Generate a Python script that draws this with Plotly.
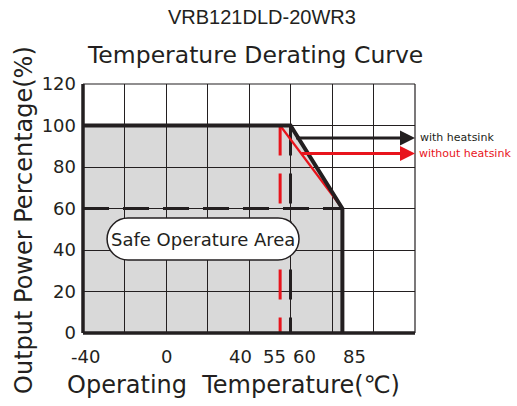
import plotly.graph_objects as go

# ---- data ----
temp_with_heatsink = [-40, 60, 85, 85]
power_with_heatsink = [100, 100, 60, 0]
temp_without_heatsink = [55, 85]
power_without_heatsink = [100, 60]
dash_v_with = ([60, 60], [100, 0])
dash_v_without = ([55, 55], [100, 0])
dash_h_60 = ([-40, 85], [60, 60])
x_tick_labels = ["-40", "0", "40", "55", "60", "85"]
x_tick_values = [-40, 0, 40, 55, 60, 85]
x_tick_shift = [2, 0, -9, -6, 14, 12]  # label offsets in px (style)
y_tick_values = [0, 20, 40, 60, 80, 100, 120]
legend_with = ("with heatsink", 94)
legend_without = ("without heatsink", 86.5)

BLACK = "#231f20"
RED = "#e8141c"
FONT = "DejaVu Sans"

fig = go.Figure()

# gray safe area polygon (below gridlines)
poly_x = temp_with_heatsink + [temp_with_heatsink[0]]
poly_y = power_with_heatsink + [0]
path = "M " + " L ".join(f"{x},{y}" for x, y in zip(poly_x, poly_y)) + " Z"
shapes = [dict(type="path", path=path, xref="x", yref="y", layer="below",
               fillcolor="#d9d9d9", line=dict(width=0))]

# dashed guides
fig.add_trace(go.Scatter(x=dash_h_60[0], y=dash_h_60[1], mode="lines",
                         line=dict(color=BLACK, width=3, dash="26px,14px"), hoverinfo="skip"))
fig.add_trace(go.Scatter(x=dash_v_with[0], y=dash_v_with[1], mode="lines",
                         line=dict(color=BLACK, width=3, dash="30px,18px"), hoverinfo="skip"))
fig.add_trace(go.Scatter(x=dash_v_without[0], y=dash_v_without[1], mode="lines",
                         line=dict(color=RED, width=3, dash="30px,18px"), hoverinfo="skip"))
# without heatsink slope
fig.add_trace(go.Scatter(x=temp_without_heatsink, y=power_without_heatsink, mode="lines",
                         line=dict(color=RED, width=2.2), hoverinfo="skip"))
# with heatsink curve
fig.add_trace(go.Scatter(x=temp_with_heatsink, y=power_with_heatsink, mode="lines",
                         line=dict(color=BLACK, width=4), hoverinfo="skip"))

# borders
shapes += [
    dict(type="line", xref="paper", yref="paper", x0=0, x1=0, y0=0, y1=1,
         line=dict(color=BLACK, width=3.5), layer="above"),
    dict(type="line", xref="paper", yref="paper", x0=0, x1=1, y0=0, y1=0,
         line=dict(color=BLACK, width=3.5), layer="above"),
    dict(type="line", xref="paper", yref="paper", x0=0, x1=1, y0=1, y1=1,
         line=dict(color=BLACK, width=1.2), layer="above"),
    dict(type="line", xref="paper", yref="paper", x0=1, x1=1, y0=0, y1=1,
         line=dict(color=BLACK, width=1.2), layer="above"),
]

# safe operation area box (stadium)
bx0, bx1, by0, by1 = -28.4, 64.1, 35.2, 55.4
r = (by1 - by0) / 2
k = 0.5523 * r
cy = (by0 + by1) / 2
box = (f"M {bx0+r},{by0} L {bx1-r},{by0} "
       f"C {bx1-r+k},{by0} {bx1},{cy-k} {bx1},{cy} "
       f"C {bx1},{cy+k} {bx1-r+k},{by1} {bx1-r},{by1} "
       f"L {bx0+r},{by1} "
       f"C {bx0+r-k},{by1} {bx0},{cy+k} {bx0},{cy} "
       f"C {bx0},{cy-k} {bx0+r-k},{by0} {bx0+r},{by0} Z")
shapes.append(dict(type="path", path=box, xref="x", yref="y", layer="above",
                   fillcolor="white", line=dict(color=BLACK, width=1.5)))

annotations = [
    dict(text="Safe Operature Area", x=(bx0 + bx1) / 2, y=cy, xref="x", yref="y",
         showarrow=False, xanchor="center", yanchor="middle",
         font=dict(family=FONT, size=18, color=BLACK)),
    dict(text="VRB121DLD-20WR3", x=0.539, y=1.269, xref="paper", yref="paper",
         showarrow=False, xanchor="center", yanchor="middle",
         font=dict(family="Liberation Sans", size=20, color=BLACK)),
    dict(text="Temperature Derating Curve", x=0.518, y=1.116, xref="paper", yref="paper",
         showarrow=False, xanchor="center", yanchor="middle",
         font=dict(family=FONT, size=23.5, color=BLACK)),
    dict(text="Operating  Temperature(℃)", x=0.452, y=-0.209, xref="paper", yref="paper",
         showarrow=False, xanchor="center", yanchor="middle",
         font=dict(family=FONT, size=24, color=BLACK)),
    dict(text="Output Power Percentage(%)", x=-0.18, y=0.455, xref="paper", yref="paper",
         showarrow=False, textangle=-90, xanchor="center", yanchor="middle",
         font=dict(family=FONT, size=24, color=BLACK)),
]
for lab, val, sh in zip(x_tick_labels, x_tick_values, x_tick_shift):
    annotations.append(dict(text=lab, x=val, y=0, xref="x", yref="paper", yshift=-23,
                            xshift=sh, showarrow=False, xanchor="center", yanchor="middle",
                            font=dict(family=FONT, size=18, color=BLACK)))

# legend arrows
annotations += [
    dict(x=120, y=legend_with[1], ax=62, ay=legend_with[1], xref="x", yref="y",
         axref="x", ayref="y", showarrow=True, arrowhead=2, arrowsize=1, arrowwidth=3,
         arrowcolor=BLACK, text=""),
    dict(x=120, y=legend_without[1], ax=64.5, ay=legend_without[1], xref="x", yref="y",
         axref="x", ayref="y", showarrow=True, arrowhead=2, arrowsize=1, arrowwidth=3,
         arrowcolor=RED, text=""),
    dict(text=legend_with[0], x=1, y=legend_with[1], xref="paper", yref="y", xanchor="left",
         yanchor="middle", xshift=3, showarrow=False,
         font=dict(family=FONT, size=11, color=BLACK)),
    dict(text=legend_without[0], x=1, y=legend_without[1], xref="paper", yref="y", xanchor="left",
         yanchor="middle", xshift=2, showarrow=False,
         font=dict(family=FONT, size=11, color=RED)),
]

fig.update_layout(
    width=517, height=406,
    margin=dict(l=83, r=102, t=84, b=73),
    plot_bgcolor="white", paper_bgcolor="white",
    showlegend=False,
    shapes=shapes, annotations=annotations,
    xaxis=dict(range=[-40, 120], dtick=20, tick0=-40, showgrid=True, gridcolor=BLACK,
               gridwidth=1, showticklabels=False, zeroline=False, showline=False, ticks=""),
    yaxis=dict(range=[0, 120], tickvals=y_tick_values, showgrid=True, gridcolor=BLACK,
               gridwidth=1, zeroline=False, showline=False, ticks="",
               tickfont=dict(family=FONT, size=18, color=BLACK), ticklabelstandoff=6),
)

fig.write_html("out.html", config={"displayModeBar": False},
               post_script="document.body.style.margin='0px';")
